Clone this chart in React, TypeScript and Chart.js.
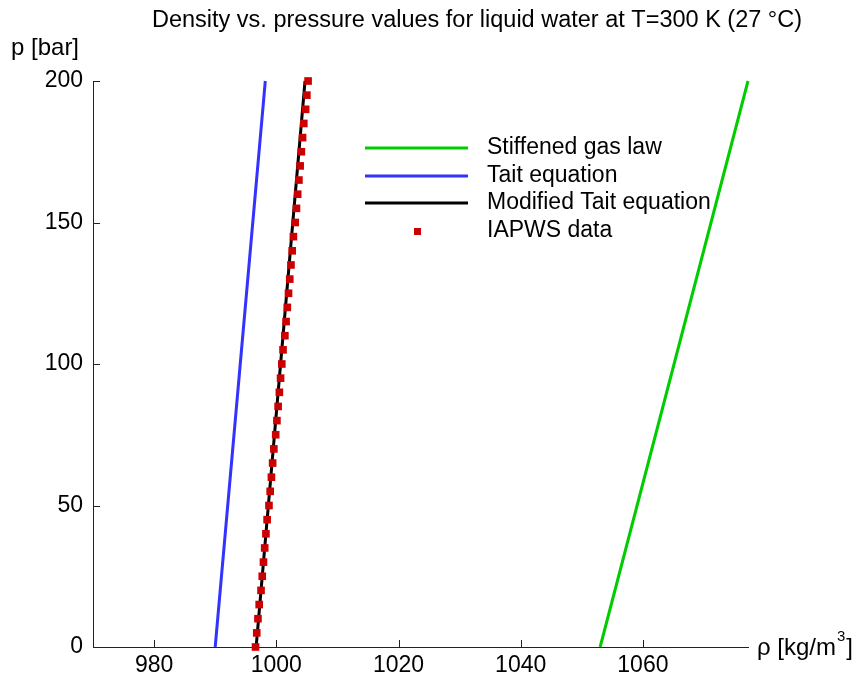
import React, { useEffect, useRef } from 'react';
import { Chart, registerables } from 'chart.js';

Chart.register(...registerables);

const TITLE = 'Density vs. pressure values for liquid water at T=300 K (27 °C)';
const Y_LABEL = 'p [bar]';
const X_LABEL_MAIN = 'ρ [kg/m';
const X_LABEL_SUP = '3';
const X_LABEL_END = ']';

const X_TICKS = [980, 1000, 1020, 1040, 1060];
const Y_TICKS = [0, 50, 100, 150, 200];
const X_MIN = 970;
const X_MAX = 1077.2;

const LINE_PRESSURE = [0, 100, 200];
const STIFFENED_RHO = [1053.0, 1065.1, 1077.2];
const TAIT_RHO = [990.0, 994.1, 998.2];
const MOD_TAIT_RHO = [996.7, 1000.7, 1004.7];

const IAPWS_PRESSURE = [
  0, 5, 10, 15, 20, 25, 30, 35, 40, 45, 50, 55, 60, 65, 70, 75, 80, 85, 90, 95,
  100, 105, 110, 115, 120, 125, 130, 135, 140, 145, 150, 155, 160, 165, 170, 175,
  180, 185, 190, 195, 200,
];
const IAPWS_RHO = [
  996.6, 996.8, 997.0, 997.2, 997.5, 997.7, 997.9, 998.1, 998.3, 998.5, 998.8,
  999.0, 999.2, 999.4, 999.6, 999.9, 1000.1, 1000.3, 1000.5, 1000.7, 1000.9,
  1001.1, 1001.4, 1001.6, 1001.8, 1002.0, 1002.2, 1002.4, 1002.6, 1002.8, 1003.1,
  1003.3, 1003.5, 1003.7, 1003.9, 1004.1, 1004.3, 1004.5, 1004.8, 1005.0, 1005.2,
];

const SERIES_NAMES = ['Stiffened gas law', 'Tait equation', 'Modified Tait equation', 'IAPWS data'];
const FONT = '"Liberation Sans", Arial, sans-serif';

const toPoints = (xs: number[], ys: number[]) => xs.map((x, i) => ({ x, y: ys[i] }));

export default function App() {
  const ref = useRef<HTMLCanvasElement | null>(null);

  useEffect(() => {
    const canvas = ref.current;
    if (!canvas) return;

    const overlay = {
      id: 'overlay',
      afterDraw(chart: any) {
        const ctx = chart.ctx;
        const xs = chart.scales.x;
        const ys = chart.scales.y;
        const area = chart.chartArea;
        ctx.save();
        // inward tick marks
        ctx.strokeStyle = '#222';
        ctx.lineWidth = 1;
        ctx.beginPath();
        for (const v of X_TICKS) {
          const px = Math.round(xs.getPixelForValue(v)) + 0.5;
          ctx.moveTo(px, area.bottom);
          ctx.lineTo(px, area.bottom - 7);
        }
        for (const v of Y_TICKS) {
          const py = Math.round(ys.getPixelForValue(v)) + 0.5;
          ctx.moveTo(area.left, py);
          ctx.lineTo(area.left + 7, py);
        }
        ctx.stroke();

        ctx.fillStyle = '#000';
        ctx.textBaseline = 'middle';
        // title
        ctx.font = `23.5px ${FONT}`;
        ctx.textAlign = 'center';
        ctx.fillText(TITLE, 477, 21);
        // y label
        ctx.font = `24px ${FONT}`;
        ctx.textAlign = 'left';
        ctx.fillText(Y_LABEL, 11, 48);
        // x label with superscript
        let x = area.right + 9;
        const y = area.bottom + 1;
        ctx.fillText(X_LABEL_MAIN, x, y);
        x += ctx.measureText(X_LABEL_MAIN).width + 1;
        ctx.font = `15px ${FONT}`;
        ctx.fillText(X_LABEL_SUP, x, y - 11);
        x += ctx.measureText(X_LABEL_SUP).width + 1;
        ctx.font = `24px ${FONT}`;
        ctx.fillText(X_LABEL_END, x, y);

        // legend
        const ds = chart.data.datasets;
        const rows = [148, 176, 203, 231];
        ds.forEach((d: any, i: number) => {
          const ry = rows[i];
          if (d.showLine) {
            ctx.strokeStyle = d.borderColor;
            ctx.lineWidth = 3;
            ctx.beginPath();
            ctx.moveTo(365, ry);
            ctx.lineTo(468, ry);
            ctx.stroke();
          } else {
            ctx.fillStyle = d.pointBackgroundColor;
            ctx.fillRect(414, ry - 3, 7, 7);
          }
          ctx.fillStyle = '#000';
          ctx.font = `23px ${FONT}`;
          ctx.textAlign = 'left';
          ctx.fillText(d.label, 487, ry);
        });
        ctx.restore();
      },
    };

    const chart = new Chart(canvas, {
      type: 'scatter',
      data: {
        datasets: [
          {
            label: SERIES_NAMES[0],
            data: toPoints(STIFFENED_RHO, LINE_PRESSURE),
            showLine: true,
            borderColor: '#00cc00',
            borderWidth: 3,
            pointRadius: 0,
            order: 1,
            clip: false,
          },
          {
            label: SERIES_NAMES[1],
            data: toPoints(TAIT_RHO, LINE_PRESSURE),
            showLine: true,
            borderColor: '#3333ff',
            borderWidth: 3,
            pointRadius: 0,
            order: 1,
            clip: false,
          },
          {
            label: SERIES_NAMES[2],
            data: toPoints(MOD_TAIT_RHO, LINE_PRESSURE),
            showLine: true,
            borderColor: '#000000',
            borderWidth: 3,
            pointRadius: 0,
            order: 1,
            clip: false,
          },
          {
            label: SERIES_NAMES[3],
            data: toPoints(IAPWS_RHO, IAPWS_PRESSURE),
            showLine: false,
            pointStyle: 'rect',
            pointRadius: 5.4,
            pointBackgroundColor: '#cc0000',
            pointBorderColor: '#cc0000',
            pointBorderWidth: 0,
            order: 0,
            clip: false,
          },
        ],
      } as any,
      options: {
        responsive: false,
        animation: false,
        events: [],
        layout: { padding: { left: 0, right: 111, top: 81, bottom: 0 }, autoPadding: false },
        plugins: { legend: { display: false }, title: { display: false }, tooltip: { enabled: false } },
        scales: {
          x: {
            type: 'linear',
            min: X_MIN,
            max: X_MAX,
            afterBuildTicks: (s: any) => { s.ticks = X_TICKS.map((v) => ({ value: v })); },
            afterFit: (s: any) => { s.height = 32; },
            grid: { display: true, drawOnChartArea: false, drawTicks: false },
            border: { display: true, color: '#222', width: 1 },
            ticks: {
              color: '#000',
              font: { family: FONT, size: 23 },
              padding: 5,
              maxRotation: 0,
              autoSkip: false,
              callback: (v: any) => String(v),
            },
          },
          y: {
            type: 'linear',
            min: 0,
            max: 200,
            afterBuildTicks: (s: any) => { s.ticks = Y_TICKS.map((v) => ({ value: v })); },
            afterFit: (s: any) => { s.width = 93; },
            grid: { display: true, drawOnChartArea: false, drawTicks: false },
            border: { display: true, color: '#222', width: 1 },
            ticks: {
              color: '#000',
              font: { family: FONT, size: 23 },
              padding: 10,
              autoSkip: false,
              callback: (v: any) => String(v),
            },
          },
        },
      },
      plugins: [overlay],
    } as any);

    return () => chart.destroy();
  }, []);

  return (
    <canvas
      ref={ref}
      width={859}
      height={679}
      style={{ position: 'fixed', left: 0, top: 0, width: 859, height: 679 }}
    />
  );
}
